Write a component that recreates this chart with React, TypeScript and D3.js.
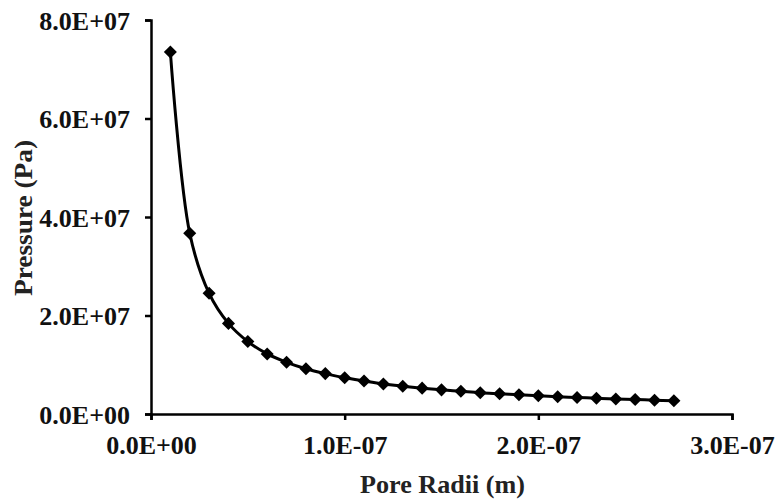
import React, { useEffect, useRef } from 'react';
import * as d3 from 'd3';

// pore radius (m)
const radii = [
  1e-8, 2e-8, 3e-8, 4e-8, 5e-8, 6e-8, 7e-8, 8e-8, 9e-8, 10e-8,
  11e-8, 12e-8, 13e-8, 14e-8, 15e-8, 16e-8, 17e-8, 18e-8, 19e-8, 20e-8,
  21e-8, 22e-8, 23e-8, 24e-8, 25e-8, 26e-8, 27e-8,
];
// pressure (Pa)
const pressures = [
  7.35e7, 3.67e7, 2.45e7, 1.84e7, 1.47e7, 1.22e7, 1.05e7, 9.2e6, 8.2e6, 7.35e6,
  6.7e6, 6.1e6, 5.65e6, 5.25e6, 4.9e6, 4.6e6, 4.3e6, 4.1e6, 3.9e6, 3.7e6,
  3.5e6, 3.35e6, 3.2e6, 3.05e6, 2.95e6, 2.8e6, 2.7e6,
];
const xTicks = [0, 1e-7, 2e-7, 3e-7];
const yTicks = [0, 2e7, 4e7, 6e7, 8e7];

const sci = (v: number) => {
  if (v === 0) return '0.0E+00';
  const e = Math.floor(Math.log10(Math.abs(v)));
  const m = v / Math.pow(10, e);
  const sign = e < 0 ? '-' : '+';
  return `${m.toFixed(1)}E${sign}${String(Math.abs(e)).padStart(2, '0')}`;
};

const App = () => {
  const ref = useRef<SVGSVGElement>(null);

  useEffect(() => {
    const width = 778;
    const height = 500;
    const left = 151;
    const right = 732;
    const top = 20;
    const bottom = 414;
    const font = '"Liberation Serif", "Times New Roman", serif';

    const svg = d3.select(ref.current);
    svg.selectAll('*').remove();
    svg.attr('width', width).attr('height', height);

    const x = d3.scaleLinear().domain([0, 3e-7]).range([left, right]);
    const y = d3.scaleLinear().domain([0, 8e7]).range([bottom, top]);

    // axes
    const xAxis = svg.append('g')
      .attr('transform', `translate(0,${bottom})`)
      .call(d3.axisBottom(x).tickValues(xTicks).tickFormat(d => sci(+d)).tickSize(6).tickSizeOuter(6).tickPadding(16));
    const yAxis = svg.append('g')
      .attr('transform', `translate(${left},0)`)
      .call(d3.axisLeft(y).tickValues(yTicks).tickFormat(d => sci(+d)).tickSize(6).tickSizeOuter(6).tickPadding(15));

    [xAxis, yAxis].forEach(g => {
      g.select('.domain').attr('stroke', '#000').attr('stroke-width', 2.5);
      g.selectAll('.tick line').attr('stroke', '#000').attr('stroke-width', 2.5);
      g.selectAll('.tick text')
        .attr('fill', '#111')
        .style('font-family', font)
        .style('font-weight', 'bold')
        .style('font-size', '26px');
    });
    yAxis.selectAll('.tick text').attr('dy', '0.35em');

    // smoothed curve
    const pts: [number, number][] = radii.map((r, i) => [r, pressures[i]]);
    const line = d3.line<[number, number]>()
      .x(d => x(d[0]))
      .y(d => y(d[1]))
      .curve(d3.curveCatmullRom.alpha(0.5));

    svg.append('path')
      .datum(pts)
      .attr('d', line)
      .attr('fill', 'none')
      .attr('stroke', '#000')
      .attr('stroke-width', 3);

    // diamond markers
    const diamond = d3.symbol().type(d3.symbolSquare).size(85);
    svg.append('g')
      .selectAll('path')
      .data(pts)
      .enter()
      .append('path')
      .attr('d', diamond)
      .attr('transform', d => `translate(${x(d[0])},${y(d[1])}) rotate(45)`)
      .attr('fill', '#000');

    // axis titles
    svg.append('text')
      .attr('x', (left + right) / 2 + 1)
      .attr('y', 493)
      .attr('text-anchor', 'middle')
      .attr('textLength', 165)
      .attr('lengthAdjust', 'spacingAndGlyphs')
      .style('font-family', font)
      .style('font-weight', 'bold')
      .style('font-size', '26px')
      .attr('fill', '#222')
      .text('Pore Radii (m)');

    svg.append('text')
      .attr('transform', `translate(32,218) rotate(-90)`)
      .attr('text-anchor', 'middle')
      .attr('textLength', 156)
      .attr('lengthAdjust', 'spacingAndGlyphs')
      .style('font-family', font)
      .style('font-weight', 'bold')
      .style('font-size', '26px')
      .attr('fill', '#222')
      .text('Pressure (Pa)');
  }, []);

  return (
    <svg ref={ref} style={{ position: 'absolute', left: 0, top: 0, background: '#fff' }}></svg>
  );
};

export default App;
